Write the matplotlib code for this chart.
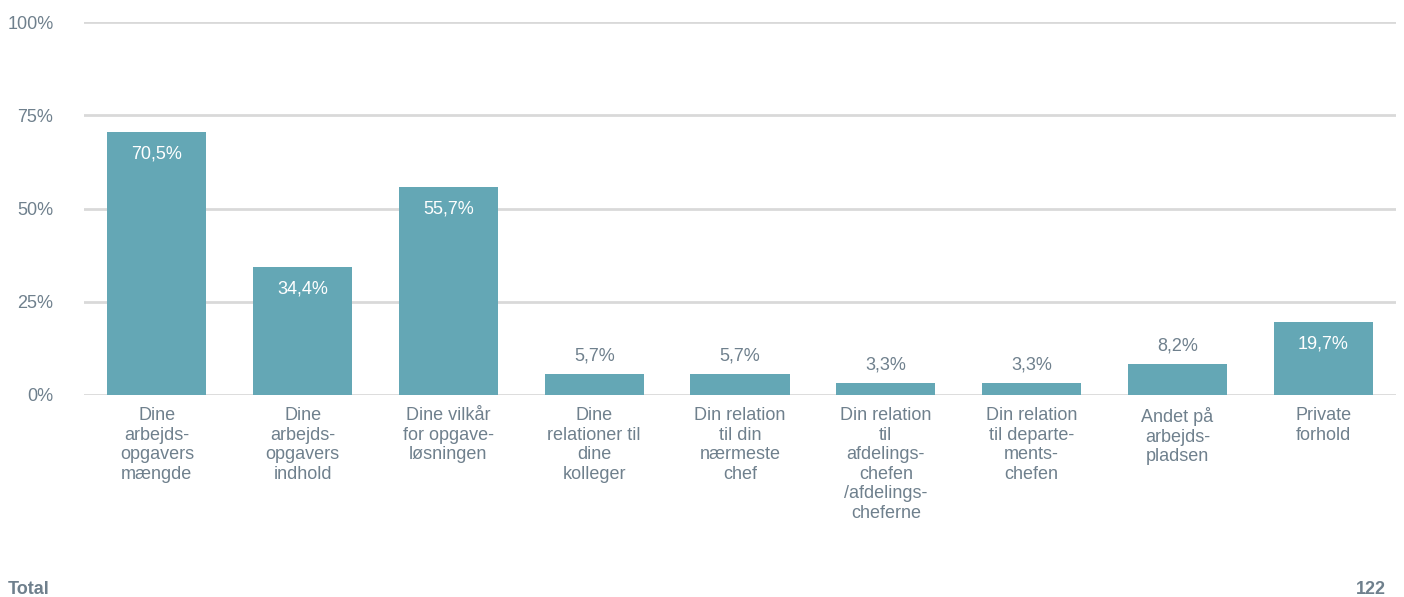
import matplotlib.pyplot as plt

plt.rcParams['font.family'] = ['Liberation Sans', 'DejaVu Sans']

categories = [
    'Dine\narbejds-\nopgavers\nmængde',
    'Dine\narbejds-\nopgavers\nindhold',
    'Dine vilkår\nfor opgave-\nløsningen',
    'Dine\nrelationer til\ndine\nkolleger',
    'Din relation\ntil din\nnærmeste\nchef',
    'Din relation\ntil\nafdelings-\nchefen\n/afdelings-\ncheferne',
    'Din relation\ntil departe-\nments-\nchefen',
    'Andet på\narbejds-\npladsen',
    'Private\nforhold',
]
values = [70.5, 34.4, 55.7, 5.7, 5.7, 3.3, 3.3, 8.2, 19.7]
yticks = [0, 25, 50, 75, 100]
total_label = 'Total'
total_n = '122'

bar_color = '#64a7b5'
text_color = '#6f808d'
grid_color = '#d9d9d9'
fs = 13

fig = plt.figure(figsize=(14.04, 5.97), dpi=100)
ax = fig.add_axes([0.0598, 0.3384, 0.9345, 0.6246])

x = list(range(len(values)))
ax.bar(x, values, width=0.68, color=bar_color, zorder=3)

ax.set_xlim(-0.5, len(values) - 0.5)
ax.set_ylim(0, 100)
ax.set_yticks(yticks)
ax.set_yticklabels([f'{t}%' for t in yticks], fontsize=fs, color=text_color)
ax.tick_params(axis='y', length=0, pad=22)
ax.set_xticks([])
ax.grid(axis='y', color=grid_color, linewidth=2, zorder=0)
for s in ax.spines.values():
    s.set_visible(False)

for xi, v in zip(x, values):
    lab = f'{v:.1f}%'.replace('.', ',')
    if v > 15:
        ax.annotate(lab, (xi, v), xytext=(0, -22), textcoords='offset pixels',
                    ha='center', va='center', color='white', fontsize=fs)
    else:
        ax.annotate(lab, (xi, v), xytext=(0, 18), textcoords='offset pixels',
                    ha='center', va='center', color=text_color, fontsize=fs)

trans = ax.get_xaxis_transform()
for xi, cat in zip(x, categories):
    ax.annotate(cat, (xi, 0), xycoords=trans, xytext=(0, -12),
                textcoords='offset pixels', ha='center', va='top',
                color=text_color, fontsize=fs, linespacing=1.2)

fig.text(8 / 1404, 1 - 589 / 597, total_label, ha='left', va='center',
         fontsize=fs, fontweight='bold', color=text_color)
fig.text(1386 / 1404, 1 - 589 / 597, total_n, ha='right', va='center',
         fontsize=fs, fontweight='bold', color=text_color)

fig.savefig('out.png', dpi=100)
